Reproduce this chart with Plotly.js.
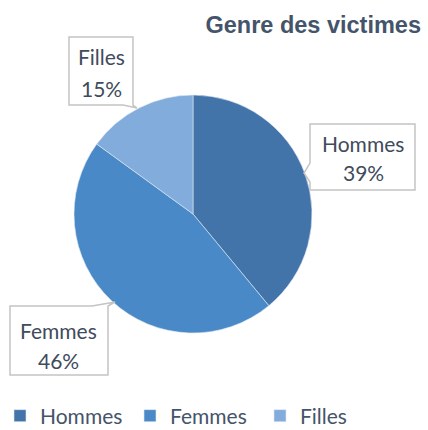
<!DOCTYPE html>
<html>
<head>
<meta charset="utf-8">
<script src="https://cdn.plot.ly/plotly-3.0.1.min.js"></script>
<style>html,body{margin:0;padding:0;background:#fff}#chart{width:428px;height:430px}</style>
</head>
<body>
<div id="chart"></div>
<script>
var categories = ["Hommes", "Femmes", "Filles"];
var values = [39, 46, 15];
var colors = ["#4274a9", "#4a89c7", "#82acdc"];

var W = 428, H = 430;
function px(x) { return x / W; }
function py(y) { return 1 - y / H; }
function pathPx(pts) {
  return pts.map(function (p, i) {
    return (i === 0 ? "M" : "L") + px(p[0]).toFixed(4) + "," + py(p[1]).toFixed(4);
  }).join(" ") + " Z";
}

var labelFont = { family: "Lato, 'Open Sans', sans-serif", size: 21, color: "#404b5c" };

var callouts = [
  { name: categories[0], pct: values[0] + "%", cx: 363, y1: 143, y2: 172,
    path: [[310,124],[415,124],[415,190],[310,190],[310,182],[304,173],[310,163]] },
  { name: categories[2], pct: values[2] + "%", cx: 101, y1: 57, y2: 88,
    path: [[69,37],[133,37],[133,105],[137,108],[123,105],[69,105]] },
  { name: categories[1], pct: values[1] + "%", cx: 59, y1: 330, y2: 360,
    path: [[10,306],[92,306],[115,302],[108,306],[108,375],[10,375]] }
];

var shapes = callouts.map(function (c) {
  return { type: "path", xref: "paper", yref: "paper", path: pathPx(c.path),
    fillcolor: "#ffffff", line: { color: "#c4c4c4", width: 1.5 }, layer: "above" };
});
var annotations = [];
callouts.forEach(function (c) {
  [[c.name, c.y1], [c.pct, c.y2]].forEach(function (t) {
    annotations.push({ xref: "paper", yref: "paper", x: px(c.cx), y: py(t[1]),
      xanchor: "center", yanchor: "middle", text: t[0], showarrow: false,
      font: labelFont, align: "center" });
  });
});

var data = [{
  type: "pie",
  labels: categories,
  values: values,
  sort: false,
  direction: "clockwise",
  rotation: 0,
  textinfo: "none",
  hoverinfo: "label+percent",
  marker: { colors: colors, line: { color: "#dfe8f3", width: 0.6 } },
  domain: { x: [px(74), px(312)], y: [py(333), py(95)] }
}];

var layout = {
  width: W, height: H,
  margin: { l: 0, r: 0, t: 0, b: 0, autoexpand: false },
  paper_bgcolor: "#ffffff",
  title: { text: "<b>Genre des victimes</b>", x: px(421), xanchor: "right", y: py(25), yanchor: "middle",
    xref: "paper", yref: "paper",
    font: { family: "'Liberation Sans', Arial, sans-serif", size: 23.5, color: "#44546a" } },
  showlegend: true,
  legend: { orientation: "h", xref: "container", yref: "container", x: px(-5), xanchor: "left",
    y: py(416), yanchor: "middle",
    font: { family: "Lato, 'Open Sans', sans-serif", size: 21, color: "#44546a" },
    entrywidth: 85, entrywidthmode: "pixels", itemwidth: 30, traceorder: "normal" },
  shapes: shapes,
  annotations: annotations
};

Plotly.newPlot("chart", data, layout, { displayModeBar: false, staticPlot: true });
</script>
</body>
</html>
